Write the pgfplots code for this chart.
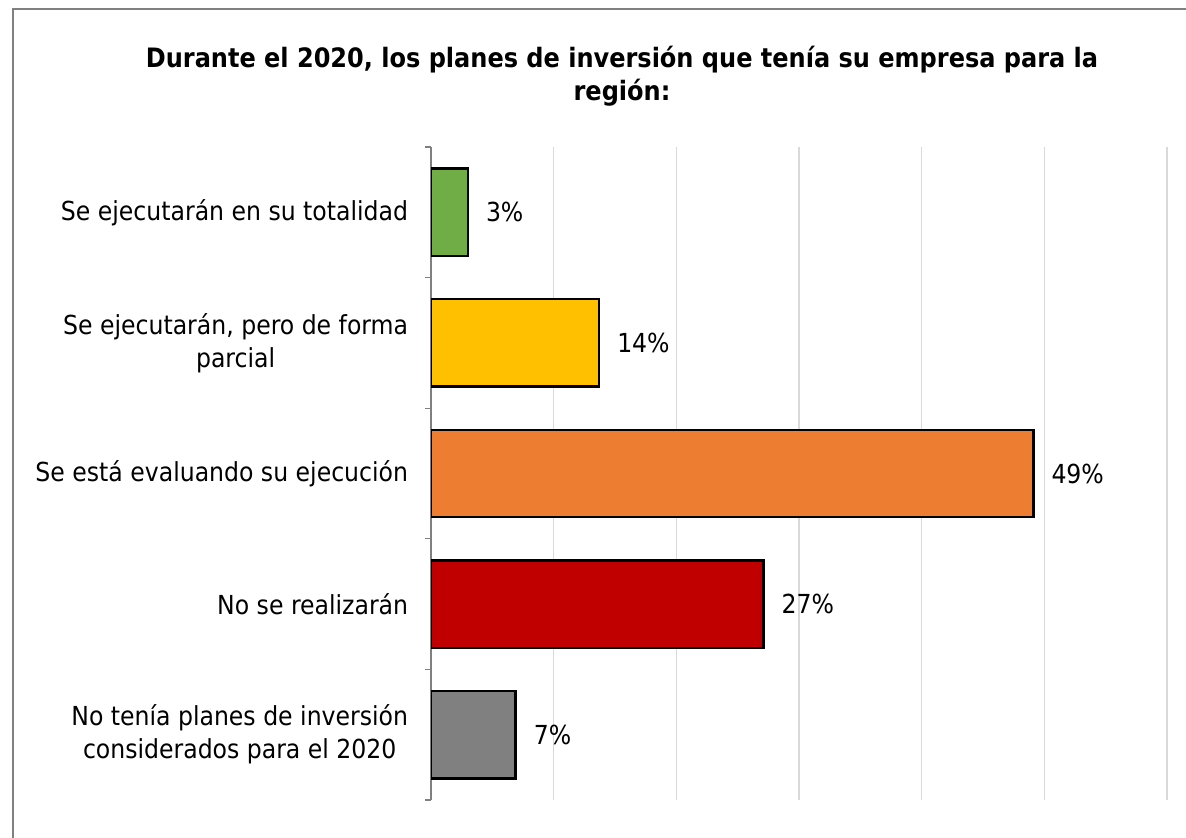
\documentclass[border=0pt]{standalone}
\usepackage{fontspec}
\setmainfont{DejaVu Sans Condensed}
\usepackage{pgfplots}
\pgfplotsset{compat=1.18}
\definecolor{cgreen}{HTML}{70AD47}
\definecolor{cyellow}{HTML}{FFC000}
\definecolor{corange}{HTML}{ED7D31}
\definecolor{cred}{HTML}{C00000}
\definecolor{cgray}{HTML}{808080}
\definecolor{gridc}{HTML}{D9D9D9}
\begin{document}
\begin{tikzpicture}[font=\fontsize{13.1}{16.5}\selectfont]
\path[use as bounding box] (0,0) rectangle (593pt,-418.5pt);
\draw[draw=gray, line width=0.75pt] (6.5pt,-420pt) -- (6.5pt,-4.5pt) -- (595pt,-4.5pt);
\node[align=center, font=\fontsize{13.35}{16.5}\selectfont\bfseries] at (311pt,-38.25pt)
  {Durante el 2020, los planes de inversión que tenía su empresa para la\\región:};
\begin{axis}[
  at={(215.5pt,-400pt)}, anchor=south west,
  scale only axis, width=368pt, height=326.5pt,
  /pgf/number format/assume math mode=true,
  xbar, xmin=0, xmax=60, ymin=-0.5, ymax=4.5, y dir=reverse,
  bar width=0.67, bar shift=0pt,
  axis lines*=left,
  x axis line style={draw=none},
  y axis line style={draw=gray, line width=0.6pt},
  xtick={10,20,30,40,50,60}, xticklabels={},
  xmajorgrids, grid style={draw=gridc, line width=0.6pt},
  major x tick style={draw=none},
  ytick={0,1,2,3,4},
  yticklabels={Se ejecutarán en su totalidad,{Se ejecutarán, pero de forma\\parcial},Se está evaluando su ejecución,No se realizarán,{No tenía planes de inversión\\considerados para el 2020}},
  major y tick style={draw=none},
  yticklabel style={align=center, anchor=east, inner sep=0pt, xshift=-7pt, font=\fontsize{13.1}{16.5}\selectfont},
  minor ytick={-0.5,0.5,1.5,2.5,3.5,4.5},
  tick align=outside,
  minor tick length=3pt,
  minor y tick style={draw=gray, line width=0.6pt},
  nodes near coords={\pgfmathprintnumber[fixed,precision=0]{\pgfplotspointmeta}\%},
  nodes near coords style={anchor=west, inner sep=0pt, xshift=8.5pt, font=\fontsize{13.1}{16.5}\selectfont},
  every axis plot/.append style={draw=black, line width=1.2pt},
]
\addplot[fill=cgreen] coordinates {(3.0,0)};
\addplot[fill=cyellow] coordinates {(13.7,1)};
\addplot[fill=corange] coordinates {(49.1,2)};
\addplot[fill=cred] coordinates {(27.1,3)};
\addplot[fill=cgray] coordinates {(6.9,4)};
\end{axis}
\end{tikzpicture}
\end{document}
